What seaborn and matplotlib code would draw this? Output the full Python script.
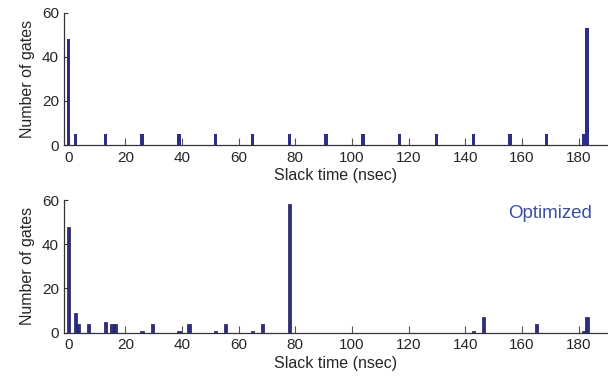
import seaborn as sns
import matplotlib.pyplot as plt
import pandas as pd

# Style
sns.set_style("ticks")
plt.rcParams["font.family"] = ["Liberation Sans", "DejaVu Sans"]

# Histogram data (bin centre in nsec, number of gates)
slack_before = [0, 2.36, 13.0, 26.0, 39.0, 52.0, 65.0, 78.0, 91.0, 104.0,
                117.0, 130.0, 143.0, 156.0, 169.0, 181.7, 182.9]
gates_before = [48, 5, 5, 5, 5, 5, 5, 5, 5, 5, 5, 5, 5, 5, 5, 5, 53]

slack_after = [0, 2.36, 3.5, 7.1, 13.0, 15.3, 16.5, 26.0, 29.5, 39.0, 42.5,
               52.0, 55.5, 65.0, 68.4, 78.0, 143.0, 146.3, 165.2, 181.7, 182.9]
gates_after = [48, 9, 4, 4, 5, 4, 4, 1, 4, 1, 4,
               1, 4, 1, 4, 58, 1, 7, 4, 1, 7]

df_before = pd.DataFrame({"slack": slack_before, "gates": gates_before})
df_after = pd.DataFrame({"slack": slack_after, "gates": gates_after})

bar_color = "#2b2d86"
bin_w = 1.18
bin_range = (-0.59, -0.59 + 158 * bin_w)

fig = plt.figure(figsize=(6.08, 3.83), dpi=100)
ax1 = fig.add_axes([0.1058, 0.6214, 0.8926, 0.3454])
ax2 = fig.add_axes([0.1058, 0.1313, 0.8926, 0.3465])

sns.histplot(data=df_before, x="slack", weights="gates", binwidth=bin_w,
             binrange=bin_range, ax=ax1, color=bar_color, alpha=1, linewidth=0)
sns.histplot(data=df_after, x="slack", weights="gates", binwidth=bin_w,
             binrange=bin_range, ax=ax2, color=bar_color, alpha=1,
             edgecolor="#1c1d55", linewidth=0.5)

for ax in (ax1, ax2):
    ax.set_xlim(-1.5, 190)
    ax.set_ylim(0, 60)
    ax.set_xticks(range(0, 181, 20))
    ax.set_yticks([0, 20, 40, 60])
    ax.tick_params(axis="x", direction="in", length=5, width=0.8,
                   color="#555555", labelsize=11, pad=4)
    ax.tick_params(axis="y", direction="in", length=3, width=0.8,
                   color="#333333", labelsize=11, pad=4)
    ax.set_xlabel("Slack time (nsec)", fontsize=11.5, labelpad=2.5)
    ax.set_ylabel("Number of gates", fontsize=11.5, labelpad=5)
    sns.despine(ax=ax)
    for s in ("left", "bottom"):
        ax.spines[s].set_color("#333333")
        ax.spines[s].set_linewidth(0.9)

ax2.text(0.972, 0.90, "Optimized", transform=ax2.transAxes, ha="right",
         va="center", fontsize=13.5, color="#3b4ea5")

plt.savefig("out.png", dpi=100)
plt.close()
